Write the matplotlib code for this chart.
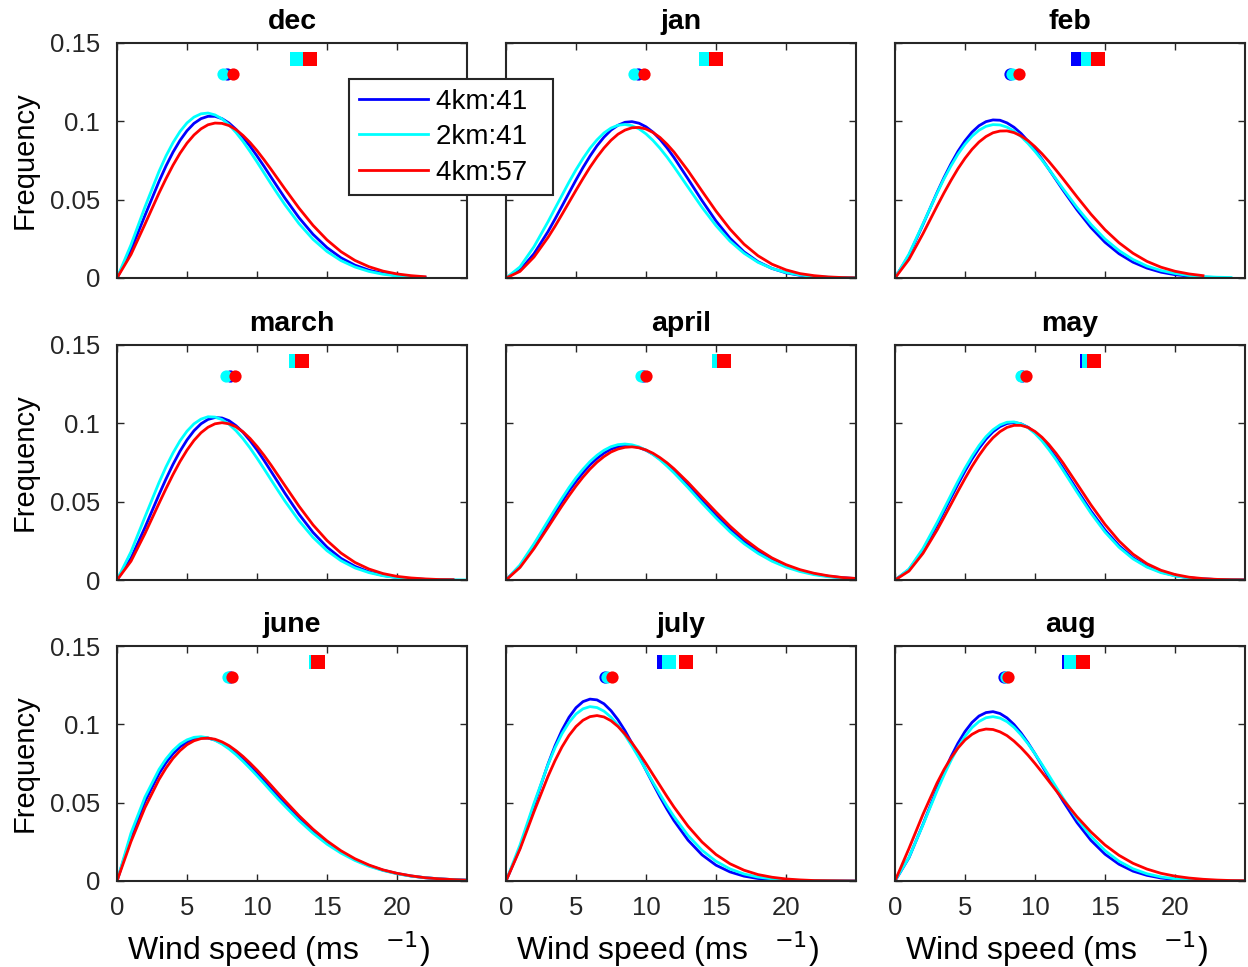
import matplotlib as mpl
mpl.use("agg")
import matplotlib.pyplot as plt

plt.rcParams["font.family"] = ["Liberation Sans", "DejaVu Sans"]

months = ["dec", "jan", "feb", "march", "april", "may", "june", "july", "aug"]
runs = ["4km:41", "2km:41", "4km:57"]
colors = ["#0000ff", "#00ffff", "#ff0000"]

# wind speed bins (m/s)
speed = [0, 1, 2, 3, 3.5, 4, 4.5, 5, 5.5, 6, 6.5, 7, 7.5, 8, 8.5, 9, 9.5, 10,
         10.5, 11, 11.5, 12, 13, 14, 15, 16, 17, 18, 19, 20, 21, 22, 23, 24, 25]

# frequency x 1e-4, one list per month
freq_4km41 = [
    [0, 179, 400, 616, 715, 803, 878, 940, 987, 1017, 1032, 1032, 1017, 989, 949, 899, 842, 779,
     713, 644, 576, 509, 385, 279, 194, 129, 82, 50, 29, 16, 9, 5],
    [0, 50, 155, 296, 376, 459, 543, 626, 705, 778, 844, 899, 944, 975, 994, 998, 988, 965,
     931, 885, 831, 769, 633, 494, 364, 254, 167, 104, 61, 33, 17, 8, 4, 2, 1],
    [0, 146, 342, 545, 641, 729, 809, 876, 931, 972, 998, 1009, 1007, 990, 962, 923, 874, 819,
     758, 693, 627, 561, 435, 322, 228, 155, 101, 63, 37, 21, 12, 6, 3],
    [0, 139, 336, 545, 645, 738, 822, 894, 953, 997, 1025, 1037, 1034, 1017, 985, 943, 890, 830,
     764, 694, 624, 553, 420, 304, 210, 138, 87, 52, 29, 16, 8, 4, 2, 1],
    [0, 90, 219, 360, 432, 501, 568, 629, 685, 735, 776, 810, 835, 851, 858, 856, 846, 828,
     803, 772, 735, 694, 603, 507, 412, 324, 247, 182, 130, 90, 60, 39, 24, 15, 9],
    [0, 66, 192, 351, 438, 525, 612, 695, 772, 840, 899, 946, 979, 999, 1005, 997, 975, 941,
     896, 842, 781, 715, 576, 440, 319, 219, 142, 87, 51, 28, 14, 7, 3, 1, 1],
    [0, 284, 508, 685, 755, 812, 856, 887, 907, 915, 912, 900, 879, 850, 816, 776, 732, 686,
     638, 588, 539, 491, 399, 316, 245, 185, 136, 98, 69, 48, 32, 21, 14, 9, 6],
    [0, 212, 483, 746, 863, 963, 1045, 1106, 1145, 1161, 1156, 1131, 1087, 1029, 959, 879, 795, 707,
     621, 537, 458, 385, 261, 167, 101, 58, 31, 16, 8, 4, 2, 1, 0, 0, 0],
    [0, 149, 362, 587, 694, 793, 880, 954, 1012, 1053, 1075, 1081, 1069, 1041, 999, 945, 882, 812,
     737, 661, 584, 510, 373, 259, 171, 107, 63, 36, 19, 10, 5, 2, 1, 0, 0],
]
freq_2km41 = [
    [0, 212, 454, 680, 779, 864, 935, 990, 1027, 1048, 1053, 1041, 1016, 978, 929, 872, 808, 741,
     671, 601, 533, 467, 347, 247, 169, 111, 70, 42, 24, 13, 7],
    [0, 71, 200, 359, 444, 528, 612, 691, 763, 828, 882, 926, 957, 975, 980, 972, 952, 920,
     878, 828, 772, 710, 580, 451, 334, 235, 158, 100, 61, 35, 19, 10, 5, 2, 1],
    [0, 153, 346, 541, 633, 716, 791, 854, 905, 943, 968, 979, 977, 963, 938, 903, 859, 808,
     753, 693, 632, 570, 450, 342, 249, 175, 118, 76, 48, 29, 16, 9, 5, 3],
    [0, 180, 403, 622, 722, 811, 888, 950, 997, 1027, 1042, 1040, 1024, 994, 953, 902, 843, 778,
     710, 640, 571, 503, 378, 272, 187, 123, 77, 47, 27, 15, 8, 4, 2, 1, 0],
    [0, 96, 231, 378, 451, 522, 590, 652, 707, 756, 796, 828, 851, 864, 868, 863, 850, 829,
     801, 767, 727, 684, 590, 491, 396, 308, 232, 170, 120, 82, 54, 34, 21, 13, 7],
    [0, 70, 201, 366, 454, 543, 631, 714, 790, 858, 915, 959, 990, 1007, 1009, 997, 972, 935,
     888, 831, 769, 701, 561, 426, 306, 209, 135, 82, 47, 26, 13, 6, 3, 1, 0],
    [0, 306, 536, 712, 779, 833, 874, 901, 917, 921, 914, 898, 874, 843, 806, 764, 719, 672,
     623, 573, 524, 477, 386, 305, 235, 178, 131, 94, 67, 46, 31, 21, 14, 9, 5],
    [0, 230, 496, 743, 850, 940, 1012, 1066, 1099, 1113, 1107, 1084, 1046, 994, 931, 861, 786, 708,
     629, 553, 479, 411, 291, 196, 126, 77, 45, 25, 14, 7, 3, 2, 1, 0, 0],
    [0, 151, 359, 575, 676, 770, 853, 923, 979, 1018, 1042, 1049, 1040, 1017, 981, 933, 876, 812,
     744, 673, 601, 530, 398, 285, 194, 126, 78, 46, 26, 14, 7, 3, 2, 1, 0],
]
freq_4km57 = [
    [0, 150, 344, 542, 634, 720, 796, 861, 913, 952, 978, 989, 987, 973, 947, 910, 865, 813,
     755, 694, 631, 568, 446, 336, 243, 168, 112, 72, 44, 26, 15, 8],
    [0, 42, 134, 259, 330, 406, 483, 560, 635, 707, 772, 830, 879, 918, 944, 959, 961, 951,
     929, 897, 854, 804, 685, 555, 427, 312, 216, 142, 88, 52, 28, 15, 7, 3, 1],
    [0, 119, 283, 458, 543, 623, 698, 764, 821, 868, 903, 927, 938, 939, 928, 907, 877, 838,
     793, 743, 689, 633, 518, 407, 308, 225, 158, 106, 69, 43, 26, 15],
    [0, 120, 297, 489, 583, 673, 756, 829, 891, 940, 975, 997, 1004, 997, 978, 946, 904, 853,
     796, 734, 668, 602, 471, 352, 252, 172, 112, 70, 41, 23, 13, 7, 3, 2],
    [0, 80, 200, 336, 405, 473, 538, 600, 657, 708, 752, 788, 817, 836, 847, 850, 844, 830,
     809, 781, 748, 710, 623, 528, 434, 344, 264, 197, 141, 98, 66, 43, 27, 16, 10],
    [0, 57, 170, 318, 400, 483, 567, 648, 725, 795, 857, 908, 947, 974, 987, 987, 974, 948,
     911, 864, 809, 748, 614, 479, 355, 249, 165, 104, 62, 35, 18, 9, 4, 2, 1],
    [0, 252, 469, 648, 721, 783, 832, 870, 895, 909, 912, 905, 888, 864, 832, 795, 753, 708,
     660, 611, 561, 512, 417, 331, 256, 193, 142, 102, 71, 49, 33, 21, 14, 9, 5],
    [0, 204, 442, 668, 768, 856, 929, 986, 1026, 1049, 1056, 1047, 1023, 986, 938, 881, 818, 750,
     679, 609, 539, 472, 350, 249, 169, 110, 69, 41, 24, 13, 7, 3, 2, 1, 0],
    [0, 208, 426, 625, 711, 786, 849, 900, 936, 960, 970, 967, 952, 928, 893, 851, 803, 750,
     694, 636, 578, 520, 410, 313, 230, 164, 113, 76, 49, 31, 19, 11, 6, 3, 2],
]

# mean wind speed (circles) and 90th percentile (squares): 4km:41, 2km:41, 4km:57
mean_speed = [[7.85, 7.57, 8.29], [9.45, 9.17, 9.88], [8.2, 8.33, 8.86],
              [8.1, 7.8, 8.45], [9.8, 9.64, 10.0], [9.1, 9.0, 9.36],
              [8.05, 7.93, 8.2], [7.07, 7.2, 7.6], [7.8, 7.95, 8.05]]
p90_speed = [[13.05, 12.86, 13.8], [14.5, 14.3, 15.0], [13.1, 13.76, 14.5],
             [13.0, 12.8, 13.2], [15.4, 15.24, 15.6], [13.74, 13.85, 14.2],
             [14.25, 14.2, 14.36], [11.3, 11.67, 12.86], [12.43, 12.57, 13.4]]

W, H = 1248., 967.
fig = plt.figure(figsize=(W/100, H/100), dpi=100)
lefts = [117, 506, 895]
tops = [43, 345, 646]
all_freq = [freq_4km41, freq_2km41, freq_4km57]

handles = []
for i, m in enumerate(months):
    r, c = divmod(i, 3)
    ax = fig.add_axes([lefts[c]/W, 1-(tops[r]+235)/H, 350/W, 235/H])
    for j in range(3):
        y = [v*1e-4 for v in all_freq[j][i]]
        l, = ax.plot(speed[:len(y)], y, color=colors[j], lw=2)
        if i == 0:
            handles.append(l)
    for j in range(3):
        ax.plot(mean_speed[i][j], 0.13, "o", color=colors[j], ms=8.8, mew=0)
    for j in range(3):
        ax.plot(p90_speed[i][j], 0.14, "s", color=colors[j], ms=9.4, mew=0)
    ax.set_xlim(0, 25)
    ax.set_ylim(0, .15)
    ax.set_xticks([0, 5, 10, 15, 20])
    ax.set_yticks([0, .05, .1, .15])
    ax.tick_params(direction="in", length=5, width=1, top=True, right=True,
                   labelsize=18.5, colors="#262626", pad=11)
    ax.tick_params(axis="y", pad=12)
    for s in ax.spines.values():
        s.set_linewidth(1.5)
        s.set_color("#262626")
    ax.set_title(m, fontsize=20.5, fontweight="bold", pad=10)
    if c == 0:
        ax.set_yticklabels(["0", "0.05", "0.1", "0.15"])
        ax.set_ylabel("Frequency", fontsize=21, labelpad=8)
    else:
        ax.set_yticklabels([])
    if r == 2:
        ax.set_xlabel("Wind speed (ms   $^{-1}$)", fontsize=23)
        ax.xaxis.set_label_coords(0.461, -0.205)
    else:
        ax.set_xticklabels([])

leg = fig.legend(handles, [n + "  " for n in runs], loc="upper left",
                 bbox_to_anchor=(349/W, 1-79/H), borderaxespad=0, fontsize=20,
                 handlelength=2.5, handletextpad=0.3, labelspacing=0.34, borderpad=0.35,
                 fancybox=False, framealpha=1, edgecolor="#262626")
leg.get_frame().set_linewidth(1.5)
fig.savefig("out.png")
